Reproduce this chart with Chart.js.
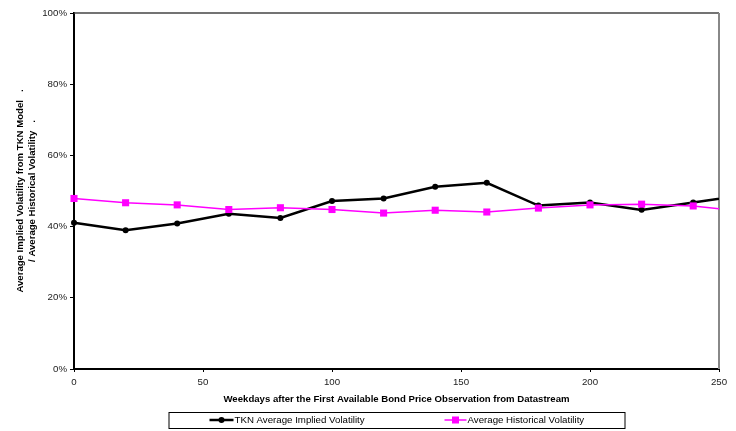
<!DOCTYPE html>
<html>
<head>
<meta charset="utf-8">
<script src="https://cdn.jsdelivr.net/npm/chart.js@4.4.1/dist/chart.umd.min.js"></script>
<style>
  html, body { margin: 0; padding: 0; background: #fff; }
  #wrap { width: 736px; height: 431px; position: relative; }
</style>
</head>
<body>
<div id="wrap"><canvas id="chart"></canvas></div>
<script>
// weekdays after first observation (last point lies past the axis end and gets clipped)
const weekdays = [0, 20, 40, 60, 80, 100, 120, 140, 160, 180, 200, 220, 240, 260];
const tknImplied = [41.1, 39.0, 40.9, 43.6, 42.4, 47.2, 47.9, 51.2, 52.3, 45.9, 46.8, 44.7, 46.8, 48.8];
const historical = [47.9, 46.7, 46.1, 44.8, 45.3, 44.8, 43.8, 44.6, 44.1, 45.2, 46.1, 46.3, 45.8, 44.2];
const seriesNames = ['TKN Average Implied Volatility', 'Average Historical Volatility'];
const xTitle = 'Weekdays after the First Available Bond Price Observation from Datastream';
const yTitle = ['Average Implied Volatility from TKN Model   .', '/ Average Historical Volatility   .'];

const FONT = 'Liberation Sans, Arial, sans-serif';

function toPoints(values) {
    return weekdays.map((x, i) => ({ x: x, y: values[i] }));
}

// top and right edges of the plot area
const frame = {
    id: 'frame',
    beforeDatasetsDraw(chart) {
        const { ctx, chartArea: a } = chart;
        ctx.save();
        ctx.lineWidth = 1.5;
        ctx.strokeStyle = '#444';
        ctx.beginPath();
        ctx.moveTo(a.left, a.top);
        ctx.lineTo(a.right, a.top);
        ctx.stroke();
        ctx.lineWidth = 2;
        ctx.strokeStyle = '#888';
        ctx.beginPath();
        ctx.moveTo(a.right, a.top);
        ctx.lineTo(a.right, a.bottom);
        ctx.stroke();
        ctx.restore();
    }
};

// boxed legend under the x axis title
const boxLegend = {
    id: 'boxLegend',
    afterDraw(chart) {
        const { ctx, chartArea: a } = chart;
        const w = 456, h = 16;
        const left = (a.left + a.right) / 2 - w / 2;
        const top = a.bottom + 43;
        const midY = top + h / 2;
        ctx.save();
        ctx.fillStyle = '#fff';
        ctx.fillRect(left, top, w, h);
        ctx.strokeStyle = '#000';
        ctx.lineWidth = 1;
        ctx.strokeRect(left + 0.5, top + 0.5, w, h);

        const items = [
            { ds: chart.data.datasets[0], lineX: 41, lineW: 24 },
            { ds: chart.data.datasets[1], lineX: 276, lineW: 22 }
        ];
        ctx.font = '9.7px ' + FONT;
        ctx.textBaseline = 'middle';
        items.forEach(it => {
            const x0 = left + it.lineX;
            ctx.strokeStyle = it.ds.borderColor;
            ctx.lineWidth = it.ds.borderWidth;
            ctx.beginPath();
            ctx.moveTo(x0, midY);
            ctx.lineTo(x0 + it.lineW, midY);
            ctx.stroke();
            ctx.fillStyle = it.ds.pointBackgroundColor;
            const cx = x0 + it.lineW / 2;
            if (it.ds.pointStyle === 'rect') {
                ctx.fillRect(cx - 3.5, midY - 3.5, 7, 7);
            } else {
                ctx.beginPath();
                ctx.arc(cx, midY, 3, 0, Math.PI * 2);
                ctx.fill();
            }
            ctx.fillStyle = '#000';
            ctx.fillText(it.ds.label, x0 + it.lineW + 1, midY + 0.5);
        });
        ctx.restore();
    }
};

new Chart(document.getElementById('chart'), {
    type: 'line',
    data: {
        datasets: [{
            label: seriesNames[0],
            data: toPoints(tknImplied),
            borderColor: '#000',
            backgroundColor: '#000',
            pointBackgroundColor: '#000',
            pointBorderColor: '#000',
            borderWidth: 2.5,
            pointStyle: 'circle',
            pointRadius: 3,
            pointBorderWidth: 0,
            clip: { left: 8, top: 8, right: 0, bottom: 8 },
            order: 1
        }, {
            label: seriesNames[1],
            data: toPoints(historical),
            borderColor: '#ff00ff',
            backgroundColor: '#ff00ff',
            pointBackgroundColor: '#ff00ff',
            pointBorderColor: '#ff00ff',
            borderWidth: 1.5,
            pointStyle: 'rect',
            pointRadius: 5,
            pointBorderWidth: 0,
            clip: { left: 8, top: 8, right: 0, bottom: 8 },
            order: 0
        }]
    },
    options: {
        responsive: true,
        maintainAspectRatio: false,
        animation: false,
        layout: { padding: { left: 0, right: 17, top: 13, bottom: 24 } },
        plugins: {
            legend: { display: false },
            tooltip: { enabled: false }
        },
        scales: {
            x: {
                type: 'linear',
                min: 0,
                max: 250,
                ticks: {
                    stepSize: 50,
                    padding: 5,
                    color: '#222',
                    font: { family: FONT, size: 9.7 }
                },
                grid: { drawOnChartArea: false, tickLength: 3, color: '#000', lineWidth: 1 },
                border: { display: true, color: '#000', width: 2 },
                title: {
                    display: true,
                    text: xTitle,
                    color: '#000',
                    font: { family: FONT, size: 9.6, weight: 'bold' },
                    padding: { top: 0, bottom: 2 }
                },
                afterFit(scale) { scale.height = 38; }
            },
            y: {
                min: 0,
                max: 100,
                ticks: {
                    stepSize: 20,
                    padding: 3,
                    color: '#222',
                    font: { family: FONT, size: 9.7 },
                    callback: v => v + '%'
                },
                grid: { drawOnChartArea: false, tickLength: 4, color: '#000', lineWidth: 1 },
                border: { display: true, color: '#000', width: 2 },
                title: {
                    display: true,
                    text: yTitle,
                    color: '#000',
                    font: { family: FONT, size: 9.6, weight: 'bold', lineHeight: 1.25 },
                    padding: { top: 14, bottom: 0 }
                },
                afterFit(scale) { scale.width = 74; }
            }
        }
    },
    plugins: [frame, boxLegend]
});
</script>
</body>
</html>
